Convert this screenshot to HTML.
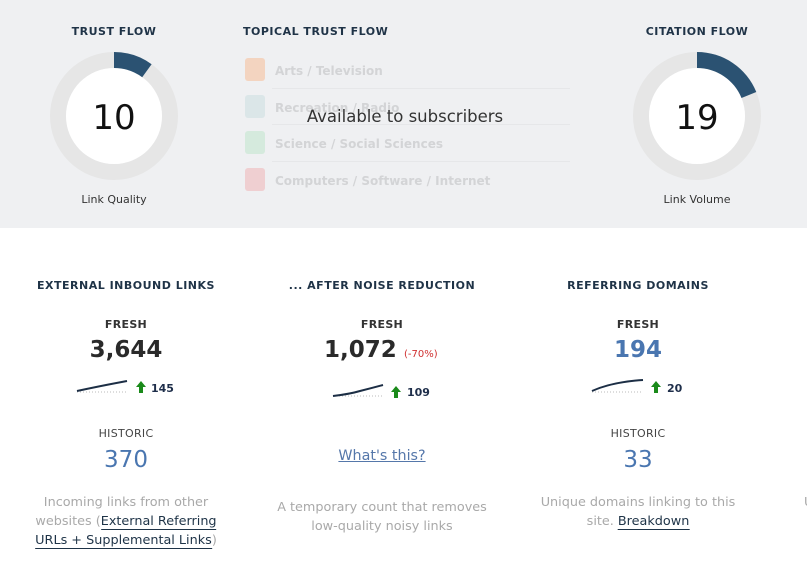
<!DOCTYPE html>
<html><head><meta charset="utf-8">
<style>
*{margin:0;padding:0;box-sizing:border-box}
html,body{width:807px;height:564px;overflow:hidden;background:#fff;font-family:"DejaVu Sans","Liberation Sans",sans-serif}
.top{position:absolute;left:0;top:0;width:807px;height:228px;background:#eff0f2}
.abs{position:absolute;white-space:nowrap}
.h{font-size:11px;font-weight:bold;color:#1f3347;letter-spacing:0.5px;transform:translateX(-50%)}
.c{transform:translateX(-50%);text-align:center}
.sq{position:absolute;width:20px;height:23px;border-radius:3px}
.tt{position:absolute;font-size:12px;font-weight:bold;color:#d3d4d6;white-space:nowrap}
.sep{position:absolute;left:272px;width:298px;height:1px;background:#e6e7e9}
.fresh{font-size:11px;font-weight:bold;color:#333;letter-spacing:0.3px}
.big{font-size:23px;font-weight:bold;color:#2a2a2a}
.hist{font-size:11px;color:#444;letter-spacing:0.3px}
.hv{font-size:23px;color:#4a76b0}
.desc{font-size:12.8px;color:#a9a9a9;line-height:19px}
.desc a{color:#1e3347;text-decoration:none;border-bottom:1px solid #1e3347}
.delta{font-size:11px;font-weight:bold;color:#1e2e4a}
</style></head><body>
<div class="top"></div>

<!-- Trust flow -->
<div class="abs h" style="left:114px;top:25px">TRUST FLOW</div>
<svg class="abs" style="left:0;top:0" width="807" height="228">
  <circle cx="114" cy="116" r="56" fill="none" stroke="#e6e6e6" stroke-width="16"/>
  <circle cx="114" cy="116" r="48" fill="#fff"/>
  <path d="M114 52 A64 64 0 0 1 151.6 64.2 L142.2 77.2 A48 48 0 0 0 114 68 Z" fill="#2b5272"/>
  <circle cx="697" cy="116" r="56" fill="none" stroke="#e6e6e6" stroke-width="16"/>
  <circle cx="697" cy="116" r="48" fill="#fff"/>
  <path d="M697 52 A64 64 0 0 1 756.3 92.0 L741.5 98.0 A48 48 0 0 0 697 68 Z" fill="#2b5272"/>
</svg>
<div class="abs c" style="left:114px;top:98px;font-size:34px;color:#111">10</div>
<div class="abs c" style="left:114px;top:193px;font-size:11px;color:#333">Link Quality</div>

<!-- Topical -->
<div class="abs" style="left:243px;top:25px;font-size:11px;font-weight:bold;color:#1f3347;letter-spacing:0.5px">TOPICAL TRUST FLOW</div>
<div class="sq" style="left:245px;top:58px;background:#f3d4c0"></div>
<div class="tt" style="left:275px;top:64px">Arts / Television</div>
<div class="sep" style="top:88px"></div>
<div class="sq" style="left:245px;top:95px;background:#dbe6e8"></div>
<div class="tt" style="left:275px;top:101px">Recreation / Radio</div>
<div class="sep" style="top:124px"></div>
<div class="sq" style="left:245px;top:131px;background:#d5eadd"></div>
<div class="tt" style="left:275px;top:137px">Science / Social Sciences</div>
<div class="sep" style="top:161px"></div>
<div class="sq" style="left:245px;top:168px;background:#efcfd1"></div>
<div class="tt" style="left:275px;top:174px">Computers / Software / Internet</div>
<div class="abs c" style="left:405px;top:107px;font-size:16.5px;color:#333">Available to subscribers</div>

<!-- Citation -->
<div class="abs h" style="left:697px;top:25px">CITATION FLOW</div>
<div class="abs c" style="left:697px;top:98px;font-size:34px;color:#111">19</div>
<div class="abs c" style="left:697px;top:193px;font-size:11px;color:#333">Link Volume</div>

<!-- Column 1 -->
<div class="abs h" style="left:126px;top:279px">EXTERNAL INBOUND LINKS</div>
<div class="abs c fresh" style="left:126px;top:318px">FRESH</div>
<div class="abs c big" style="left:126px;top:337px">3,644</div>
<svg class="abs" style="left:0;top:370px" width="807" height="30">
  <line x1="77" y1="22" x2="127" y2="22" stroke="#bbb" stroke-width="1" stroke-dasharray="1,2"/>
  <path d="M77 21 Q100 16 127 11" fill="none" stroke="#1c2e45" stroke-width="2"/>
  <path d="M141 11 L146 17 L143 17 L143 23 L139 23 L139 17 L136 17 Z" fill="#1a8a1a"/>
  <line x1="333" y1="26" x2="383" y2="26" stroke="#bbb" stroke-width="1" stroke-dasharray="1,2"/>
  <path d="M333 26 Q350 24 360 21 Q372 18 383 15" fill="none" stroke="#1c2e45" stroke-width="2"/>
  <path d="M396 16 L401 22 L398 22 L398 28 L394 28 L394 22 L391 22 Z" fill="#1a8a1a"/>
  <line x1="592" y1="22" x2="642" y2="22" stroke="#bbb" stroke-width="1" stroke-dasharray="1,2"/>
  <path d="M592 21 Q612 12 643 10" fill="none" stroke="#1c2e45" stroke-width="2"/>
  <path d="M656 11 L661 17 L658 17 L658 23 L654 23 L654 17 L651 17 Z" fill="#1a8a1a"/>
</svg>
<div class="abs delta" style="left:151px;top:382px">145</div>
<div class="abs c hist" style="left:126px;top:427px">HISTORIC</div>
<div class="abs c hv" style="left:126px;top:447px">370</div>
<div class="abs c desc" style="left:126px;top:493px">Incoming links from other<br>websites (<a>External Referring</a><br><a>URLs + Supplemental Links</a>)</div>

<!-- Column 2 -->
<div class="abs h" style="left:382px;top:279px">... AFTER NOISE REDUCTION</div>
<div class="abs c fresh" style="left:382px;top:318px">FRESH</div>
<div class="abs big" style="left:324px;top:337px">1,072</div>
<div class="abs" style="left:404px;top:349px;font-size:10px;color:#d03030">(-70%)</div>
<div class="abs delta" style="left:407px;top:386px">109</div>
<div class="abs c" style="left:382px;top:448px;font-size:14.3px;color:#5577aa;text-decoration:underline">What's this?</div>
<div class="abs c desc" style="left:382px;top:498px">A temporary count that removes<br>low-quality noisy links</div>

<!-- Column 3 -->
<div class="abs h" style="left:638px;top:279px">REFERRING DOMAINS</div>
<div class="abs c fresh" style="left:638px;top:318px">FRESH</div>
<div class="abs c big" style="left:638px;top:337px;color:#4a76b0">194</div>
<div class="abs delta" style="left:667px;top:382px">20</div>
<div class="abs c hist" style="left:638px;top:427px">HISTORIC</div>
<div class="abs c hv" style="left:638px;top:447px">33</div>
<div class="abs c desc" style="left:638px;top:493px">Unique domains linking to this<br>site. <a>Breakdown</a></div>

<div class="abs desc" style="left:804px;top:493px">U</div>
</body></html>
